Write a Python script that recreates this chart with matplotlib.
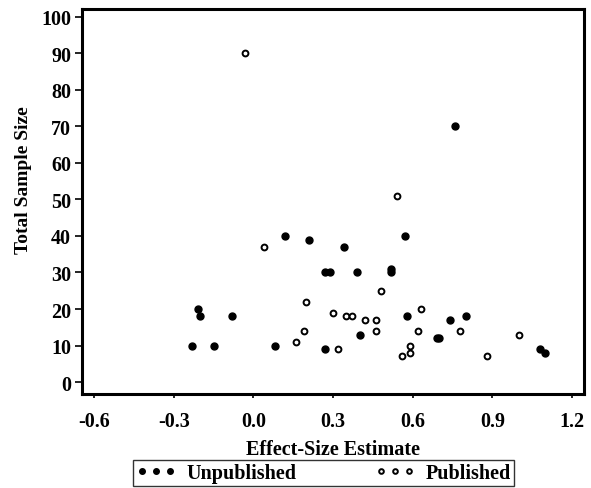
import matplotlib
matplotlib.use('Agg')
from matplotlib import pyplot as plt

# effect size vs. total sample size, split by publication status
unpub_es = [0.12, -0.21, -0.20, -0.08, -0.23, -0.15, 0.08, 0.21, 0.57, 0.34,
            0.27, 0.29, 0.39, 0.52, 0.52, 0.58, 0.40, 0.27, 0.69, 0.70,
            0.76, 0.74, 0.80, 1.08, 1.10]
unpub_n = [40, 20, 18, 18, 10, 10, 10, 39, 40, 37,
           30, 30, 30, 31, 30, 18, 13, 9, 12, 12,
           70, 17, 18, 9, 8]

pub_es = [-0.03, 0.04, 0.16, 0.54, 0.48, 0.20, 0.30, 0.35, 0.37, 0.42, 0.46,
          0.63, 0.19, 0.46, 0.62, 0.32, 0.59, 0.59, 0.56, 0.78, 1.00, 0.88]
pub_n = [90, 37, 11, 51, 25, 22, 19, 18, 18, 17, 17,
         20, 14, 14, 14, 9, 10, 8, 7, 14, 13, 7]

x_ticks = [-0.6, -0.3, 0.0, 0.3, 0.6, 0.9, 1.2]
y_ticks = list(range(0, 101, 10))

plt.rcParams['font.family'] = ['Liberation Serif', 'DejaVu Serif']
plt.rcParams['font.weight'] = 'bold'
plt.rcParams['font.size'] = 14.5

fig = plt.figure(figsize=(5.91, 4.89), dpi=100)
ax = fig.add_axes([0.139, 0.192, 0.849, 0.788])

ax.plot(unpub_es, unpub_n, 'o', color='black', markersize=5,
        label='Unpublished')
ax.plot(pub_es, pub_n, 'o', markerfacecolor='white', markeredgecolor='black',
        markeredgewidth=1.4, markersize=4.2, label='Published')

ax.set_xlim(-0.645, 1.245)
ax.set_ylim(-3.3, 102.2)
ax.set_xticks(x_ticks)
ax.set_xticklabels([f"{t:.1f}" for t in x_ticks])
ax.set_yticks(y_ticks)

for s in ax.spines.values():
    s.set_linewidth(2.2)
ax.tick_params(axis='y', direction='out', length=5, width=1.2, pad=3)
ax.tick_params(axis='x', direction='out', length=3, width=1.2, pad=9)

ax.set_xlabel('Effect-Size Estimate', fontweight='bold', labelpad=6)
ax.set_ylabel('Total Sample Size', fontweight='bold', fontsize=14)
ax.yaxis.set_label_coords(-0.10, 0.558)

leg = fig.legend(loc='center', bbox_to_anchor=(0.547, 0.031), ncol=2,
                 numpoints=3, frameon=True, fancybox=False, edgecolor='black',
                 handlelength=2.0, handletextpad=0.5,
                 columnspacing=3.9, borderpad=0.15, markerscale=0.8)
leg.get_frame().set_linewidth(1.0)

plt.savefig('out.png', dpi=100)
